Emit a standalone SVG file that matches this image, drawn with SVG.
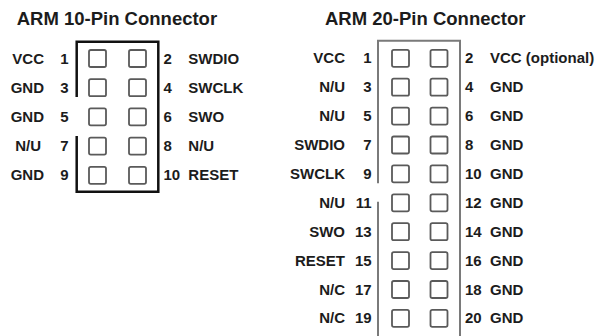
<svg xmlns="http://www.w3.org/2000/svg" width="598" height="336" viewBox="0 0 598 336">
<style>
text{font-family:"Liberation Sans",Arial,sans-serif;font-weight:bold;fill:#1c1c1c}
.t{font-size:18.5px}
.l{font-size:15px}
.r{text-anchor:end}
.p{fill:none;stroke:#5a5a5a;stroke-width:1.8}
.b10{fill:none;stroke:#111;stroke-width:2.5}
.b20{fill:none;stroke:#7a7a7a;stroke-width:2}
</style>
<defs>
<rect id="pin" x="-8.5" y="-8.5" width="17" height="17" rx="1.8" class="p"/>
</defs>
<rect width="598" height="336" fill="#fff"/>
<g id="conn10">
<text class="t" x="16.7" y="25">ARM 10-Pin Connector</text>
<path class="b10" d="M76.7,97 V41.7 H158.3 V191.7 H76.7 V136"/>
<g id="pins10">
<use href="#pin" x="97.5" y="58.5"/><use href="#pin" x="137.5" y="58.5"/>
<use href="#pin" x="97.5" y="87.7"/><use href="#pin" x="137.5" y="87.7"/>
<use href="#pin" x="97.5" y="116.9"/><use href="#pin" x="137.5" y="116.9"/>
<use href="#pin" x="97.5" y="146.1"/><use href="#pin" x="137.5" y="146.1"/>
<use href="#pin" x="97.5" y="175.3"/><use href="#pin" x="137.5" y="175.3"/>
</g>
<g class="l">
<text class="l r" x="44" y="63.5">VCC</text><text class="l r" x="68.5" y="63.5">1</text>
<text class="l r" x="44" y="92.7">GND</text><text class="l r" x="68.5" y="92.7">3</text>
<text class="l r" x="44" y="121.9">GND</text><text class="l r" x="68.5" y="121.9">5</text>
<text class="l r" x="41" y="151.1">N/U</text><text class="l r" x="68.5" y="151.1">7</text>
<text class="l r" x="44" y="180.3">GND</text><text class="l r" x="68.5" y="180.3">9</text>
<text class="l" x="163.5" y="63.5">2</text><text class="l" x="188.3" y="63.5">SWDIO</text>
<text class="l" x="163.5" y="92.7">4</text><text class="l" x="188.3" y="92.7">SWCLK</text>
<text class="l" x="163.5" y="121.9">6</text><text class="l" x="188.3" y="121.9">SWO</text>
<text class="l" x="163.5" y="151.1">8</text><text class="l" x="188.3" y="151.1">N/U</text>
<text class="l" x="163.5" y="180.3">10</text><text class="l" x="188.3" y="180.3">RESET</text>
</g>
</g>
<g id="conn20">
<text class="t" x="325" y="25">ARM 20-Pin Connector</text>
<path class="b20" d="M378,183.3 V40.7 H460 V337 M378,201.7 V337"/>
<g id="pins20">
<use href="#pin" x="400.5" y="58.3"/><use href="#pin" x="439" y="58.3"/>
<use href="#pin" x="400.5" y="87.2"/><use href="#pin" x="439" y="87.2"/>
<use href="#pin" x="400.5" y="116.1"/><use href="#pin" x="439" y="116.1"/>
<use href="#pin" x="400.5" y="145"/><use href="#pin" x="439" y="145"/>
<use href="#pin" x="400.5" y="173.9"/><use href="#pin" x="439" y="173.9"/>
<use href="#pin" x="400.5" y="202.8"/><use href="#pin" x="439" y="202.8"/>
<use href="#pin" x="400.5" y="231.7"/><use href="#pin" x="439" y="231.7"/>
<use href="#pin" x="400.5" y="260.6"/><use href="#pin" x="439" y="260.6"/>
<use href="#pin" x="400.5" y="289.5"/><use href="#pin" x="439" y="289.5"/>
<use href="#pin" x="400.5" y="318.4"/><use href="#pin" x="439" y="318.4"/>
</g>
<g>
<text class="l r" x="345" y="63.3">VCC</text><text class="l r" x="371.7" y="63.3">1</text>
<text class="l r" x="345" y="92.2">N/U</text><text class="l r" x="371.7" y="92.2">3</text>
<text class="l r" x="345" y="121.1">N/U</text><text class="l r" x="371.7" y="121.1">5</text>
<text class="l r" x="345" y="150">SWDIO</text><text class="l r" x="371.7" y="150">7</text>
<text class="l r" x="345" y="178.9">SWCLK</text><text class="l r" x="371.7" y="178.9">9</text>
<text class="l r" x="345" y="207.8">N/U</text><text class="l r" x="371.7" y="207.8">11</text>
<text class="l r" x="345" y="236.7">SWO</text><text class="l r" x="371.7" y="236.7">13</text>
<text class="l r" x="345" y="265.6">RESET</text><text class="l r" x="371.7" y="265.6">15</text>
<text class="l r" x="345" y="294.5">N/C</text><text class="l r" x="371.7" y="294.5">17</text>
<text class="l r" x="345" y="323.4">N/C</text><text class="l r" x="371.7" y="323.4">19</text>
<text class="l" x="465" y="63.3">2</text><text class="l" x="490" y="63.3">VCC (optional)</text>
<text class="l" x="465" y="92.2">4</text><text class="l" x="490" y="92.2">GND</text>
<text class="l" x="465" y="121.1">6</text><text class="l" x="490" y="121.1">GND</text>
<text class="l" x="465" y="150">8</text><text class="l" x="490" y="150">GND</text>
<text class="l" x="465" y="178.9">10</text><text class="l" x="490" y="178.9">GND</text>
<text class="l" x="465" y="207.8">12</text><text class="l" x="490" y="207.8">GND</text>
<text class="l" x="465" y="236.7">14</text><text class="l" x="490" y="236.7">GND</text>
<text class="l" x="465" y="265.6">16</text><text class="l" x="490" y="265.6">GND</text>
<text class="l" x="465" y="294.5">18</text><text class="l" x="490" y="294.5">GND</text>
<text class="l" x="465" y="323.4">20</text><text class="l" x="490" y="323.4">GND</text>
</g>
</g>
</svg>
